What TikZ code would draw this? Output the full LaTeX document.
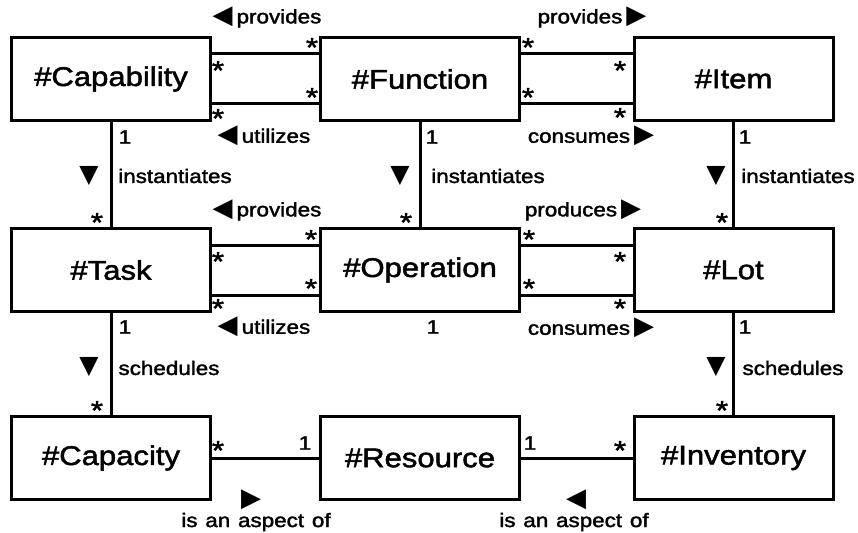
\documentclass[tikz,border=0pt]{standalone}
\usepackage{fontspec}
\setmainfont{Liberation Sans}[FakeStretch=1.15,FakeBold=1.8]
\newfontfamily\widefont{Liberation Sans}[FakeStretch=1.15,FakeBold=1.8,WordSpace=1.25]
\newfontfamily\trifont{DejaVu Sans}
\newcommand\Ltri{{\trifont\fontsize{26}{26}\selectfont ◀}}
\newcommand\Rtri{{\trifont\fontsize{26}{26}\selectfont ▶}}
\newcommand\Dtri{{\trifont\fontsize{25}{25}\selectfont ▼}}
\newcommand\mstar{\raisebox{-0.467em}[0.15em][0.15em]{*}}
\begin{document}
\begin{tikzpicture}[x=1pt,y=-1pt,
  box/.style={draw,line width=3pt,minimum width=199pt,minimum height=83pt,inner sep=0pt,font=\fontsize{27}{32}\selectfont},
  lbl/.style={inner sep=0pt,font=\fontsize{19.5}{23}\selectfont},
  starm/.style={anchor=center,inner sep=0pt,font=\fontsize{27}{28}\selectfont},
  conn/.style={line width=3pt}]
\useasboundingbox (0,0) rectangle (858,532);
% boxes
\node[box] (cap) at (111,79) {\#Capability};
\node[box] (fun) at (420,79) {\#Function};
\node[box] (item) at (733.5,79) {\#Item};
\node[box] (task) at (111,270) {\#Task};
\node[box] (op) at (420,270) {\#Operation};
\node[box] (lot) at (733.5,270) {\#Lot};
\node[box] (capa) at (111,458) {\#Capacity};
\node[box] (res) at (420,458) {\#Resource};
\node[box] (inv) at (733.5,458) {\#Inventory};
% horizontal connectors
\draw[conn] ([yshift=25pt]cap.east) -- ([yshift=25pt]fun.west);
\draw[conn] ([yshift=-25pt]cap.east) -- ([yshift=-25pt]fun.west);
\draw[conn] ([yshift=25pt]fun.east) -- ([yshift=25pt]item.west);
\draw[conn] ([yshift=-25pt]fun.east) -- ([yshift=-25pt]item.west);
\draw[conn] ([yshift=25pt]task.east) -- ([yshift=25pt]op.west);
\draw[conn] ([yshift=-25pt]task.east) -- ([yshift=-25pt]op.west);
\draw[conn] ([yshift=25pt]op.east) -- ([yshift=25pt]lot.west);
\draw[conn] ([yshift=-25pt]op.east) -- ([yshift=-25pt]lot.west);
\draw[conn] (capa.east) -- (res.west);
\draw[conn] (res.east) -- (inv.west);
% vertical connectors
\draw[conn] (cap.south) -- (task.north);
\draw[conn] (fun.south) -- (op.north);
\draw[conn] (item.south) -- (lot.north);
\draw[conn] (task.south) -- (capa.north);
\draw[conn] (lot.south) -- (inv.north);
% top row labels
\node[lbl] (l1) at (267,17) {\Ltri\hspace{4pt}provides};
\node[lbl] (l2) at (264,136) {\Ltri\hspace{4pt}utilizes};
\node[lbl] (l3) at (592,17) {provides\hspace{4pt}\Rtri};
\node[lbl] (l4) at (591,136) {consumes\hspace{4pt}\Rtri};
\node[starm] (s1) at (312,44) {\mstar};
\node[starm] (s2) at (218,67) {\mstar};
\node[starm] (s3) at (312,94) {\mstar};
\node[starm] (s4) at (218,115) {\mstar};
\node[starm] (s5) at (528,44) {\mstar};
\node[starm] (s6) at (620,67) {\mstar};
\node[starm] (s7) at (528,94) {\mstar};
\node[starm] (s8) at (620,114) {\mstar};
% top verticals
\node[lbl] (o1) at (125,137) {1};
\node[lbl] (o2) at (432,137) {1};
\node[lbl] (o3) at (745,137) {1};
\node[lbl] (d1) at (89,176) {\Dtri};
\node[lbl] (d2) at (400,176) {\Dtri};
\node[lbl] (d3) at (716,176) {\Dtri};
\node[lbl] (i1) at (175,176) {instantiates};
\node[lbl] (i2) at (488,176) {instantiates};
\node[lbl] (i3) at (798,176) {instantiates};
\node[starm] (s9) at (97,219) {\mstar};
\node[starm] (s10) at (406,219) {\mstar};
\node[starm] (s11) at (722,219) {\mstar};
% middle row labels
\node[lbl] (l5) at (267,210) {\Ltri\hspace{4pt}provides};
\node[lbl] (l6) at (264,327) {\Ltri\hspace{4pt}utilizes};
\node[lbl] (l7) at (583,210) {produces\hspace{4pt}\Rtri};
\node[lbl] (l8) at (591,328) {consumes\hspace{4pt}\Rtri};
\node[starm] (s12) at (311,236) {\mstar};
\node[starm] (s13) at (218,258) {\mstar};
\node[starm] (s14) at (311,285) {\mstar};
\node[starm] (s15) at (218,305) {\mstar};
\node[starm] (s16) at (529,236) {\mstar};
\node[starm] (s17) at (620,258) {\mstar};
\node[starm] (s18) at (529,285) {\mstar};
\node[starm] (s19) at (620,305) {\mstar};
% middle verticals
\node[lbl] (o4) at (125,327) {1};
\node[lbl] (o5) at (433,327) {1};
\node[lbl] (o6) at (745,327) {1};
\node[lbl] (d4) at (89,367) {\Dtri};
\node[lbl] (d5) at (716,367) {\Dtri};
\node[lbl] (h1) at (169,368) {schedules};
\node[lbl] (h2) at (793,368) {schedules};
\node[starm] (s20) at (97,407) {\mstar};
\node[starm] (s21) at (722,407) {\mstar};
% bottom row labels
\node[starm] (s22) at (218,447) {\mstar};
\node[lbl] (o7) at (305,443) {1};
\node[lbl] (o8) at (530,443) {1};
\node[starm] (s23) at (620,447) {\mstar};
\node[lbl] (t1) at (251,500) {\Rtri};
\node[lbl] (t2) at (576,500) {\Ltri};
\node[lbl,font=\widefont\fontsize{19.5}{23}\selectfont] (a1) at (256,522) {is an aspect of};
\node[lbl,font=\widefont\fontsize{19.5}{23}\selectfont] (a2) at (574,522) {is an aspect of};
\end{tikzpicture}
\end{document}
